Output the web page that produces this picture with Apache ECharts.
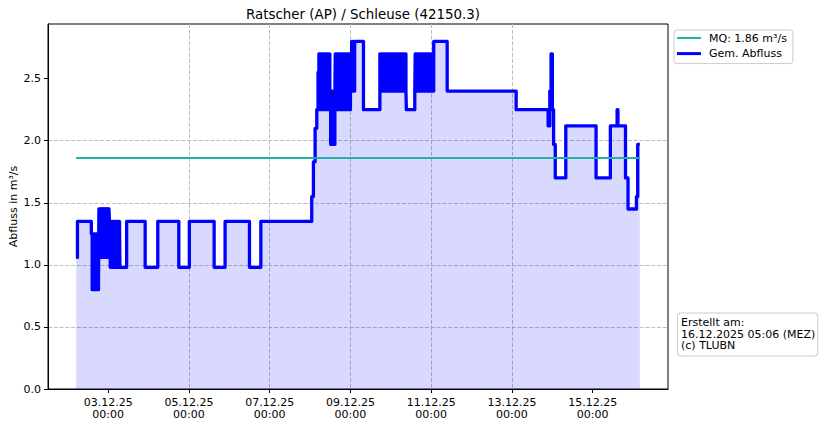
<!DOCTYPE html>
<html>
<head>
<meta charset="utf-8">
<script src="https://cdn.jsdelivr.net/npm/echarts@6/dist/echarts.min.js"></script>
<style>
html,body{margin:0;padding:0;background:#fff;}
#chart{width:823px;height:426px;}
</style>
</head>
<body>
<div id="chart"></div>
<script>
// ---------- data ----------
const chartTitle = 'Ratscher (AP) / Schleuse (42150.3)';
const yAxisTitle = 'Abfluss in m³/s';
const mqValue = 1.86;
const mqLabel = 'MQ: 1.86 m³/s';
const flowLabel = 'Gem. Abfluss';
const infoLines = ['Erstellt am:', '16.12.2025 05:06 (MEZ)', '(c) TLUBN'];
const xTickTimes = ['2025-12-03 00:00','2025-12-05 00:00','2025-12-07 00:00','2025-12-09 00:00','2025-12-11 00:00','2025-12-13 00:00','2025-12-15 00:00'];
const yTickValues = [0, 0.5, 1.0, 1.5, 2.0, 2.5];
const xRange = ['2025-12-01 12:15', '2025-12-16 20:45'];
const yRange = [0, 2.94];

// measured discharge [time, value] (value holds until next point)
const flowPoints = [
['2025-12-02 05:00',1.06],['2025-12-02 05:45',1.35],
['2025-12-02 14:00',1.25],['2025-12-02 14:30',0.80],['2025-12-02 15:00',1.25],['2025-12-02 15:30',0.80],['2025-12-02 16:00',1.25],['2025-12-02 16:30',0.80],['2025-12-02 17:00',1.25],['2025-12-02 17:30',0.80],['2025-12-02 18:00',1.25],['2025-12-02 18:15',0.80],
['2025-12-02 18:30',1.45],['2025-12-02 19:00',1.06],['2025-12-02 19:30',1.45],['2025-12-02 20:00',1.06],['2025-12-02 20:30',1.45],['2025-12-02 21:00',1.06],['2025-12-02 21:30',1.45],['2025-12-02 22:00',1.06],['2025-12-02 22:30',1.45],['2025-12-02 23:00',1.06],['2025-12-02 23:30',1.45],['2025-12-03 00:00',1.06],['2025-12-03 00:30',1.45],
['2025-12-03 00:45',1.35],['2025-12-03 01:15',0.98],['2025-12-03 01:45',1.35],['2025-12-03 02:15',0.98],['2025-12-03 02:45',1.35],['2025-12-03 03:15',0.98],['2025-12-03 03:45',1.35],['2025-12-03 04:15',0.98],['2025-12-03 04:45',1.35],['2025-12-03 05:15',0.98],['2025-12-03 05:45',1.35],['2025-12-03 06:15',0.98],['2025-12-03 06:45',1.35],['2025-12-03 07:00',0.98],
['2025-12-03 11:00',1.35],['2025-12-03 22:00',0.98],['2025-12-04 05:30',1.35],['2025-12-04 18:00',0.98],['2025-12-05 00:15',1.35],['2025-12-05 15:00',0.98],['2025-12-05 21:30',1.35],['2025-12-06 12:00',0.98],['2025-12-06 18:45',1.35],
['2025-12-08 01:00',1.55],['2025-12-08 02:00',1.83],['2025-12-08 03:00',2.10],['2025-12-08 04:00',2.25],['2025-12-08 04:45',2.55],
['2025-12-08 05:15',2.70],['2025-12-08 05:45',2.25],['2025-12-08 06:15',2.70],['2025-12-08 06:45',2.25],['2025-12-08 07:15',2.70],['2025-12-08 07:45',2.25],['2025-12-08 08:15',2.70],['2025-12-08 08:45',2.25],['2025-12-08 09:15',2.70],['2025-12-08 09:45',2.25],['2025-12-08 10:15',2.70],['2025-12-08 10:45',2.25],['2025-12-08 11:15',2.70],
['2025-12-08 11:45',2.40],['2025-12-08 12:15',1.97],['2025-12-08 12:45',2.40],['2025-12-08 13:15',1.97],['2025-12-08 13:45',2.25],['2025-12-08 14:15',1.97],['2025-12-08 14:45',2.40],
['2025-12-08 15:00',2.70],['2025-12-08 15:30',2.25],['2025-12-08 16:00',2.70],['2025-12-08 16:30',2.25],['2025-12-08 17:00',2.70],['2025-12-08 17:30',2.25],['2025-12-08 18:00',2.70],['2025-12-08 18:30',2.25],['2025-12-08 19:00',2.70],['2025-12-08 19:30',2.25],['2025-12-08 20:00',2.70],['2025-12-08 20:30',2.25],['2025-12-08 21:00',2.70],['2025-12-08 21:30',2.25],['2025-12-08 22:00',2.70],['2025-12-08 22:30',2.25],['2025-12-08 23:00',2.70],['2025-12-08 23:30',2.25],['2025-12-09 00:00',2.70],['2025-12-09 00:30',2.40],
['2025-12-09 00:45',2.80],['2025-12-09 01:30',2.40],['2025-12-09 02:30',2.80],['2025-12-09 07:45',2.25],
['2025-12-09 17:30',2.70],['2025-12-09 18:00',2.40],['2025-12-09 18:30',2.70],['2025-12-09 19:00',2.40],['2025-12-09 19:30',2.70],['2025-12-09 20:00',2.40],['2025-12-09 20:30',2.70],['2025-12-09 21:00',2.40],['2025-12-09 21:30',2.70],['2025-12-09 22:00',2.40],['2025-12-09 22:30',2.70],['2025-12-09 23:00',2.40],['2025-12-09 23:30',2.70],['2025-12-10 00:00',2.40],['2025-12-10 00:30',2.70],['2025-12-10 01:00',2.40],['2025-12-10 01:30',2.70],['2025-12-10 02:00',2.40],['2025-12-10 02:30',2.70],['2025-12-10 03:00',2.40],['2025-12-10 03:30',2.70],['2025-12-10 04:00',2.40],['2025-12-10 04:30',2.70],['2025-12-10 05:00',2.40],['2025-12-10 05:30',2.70],['2025-12-10 06:00',2.40],['2025-12-10 06:30',2.70],['2025-12-10 07:00',2.40],['2025-12-10 07:30',2.70],['2025-12-10 08:00',2.40],['2025-12-10 08:30',2.70],['2025-12-10 09:00',2.40],
['2025-12-10 09:15',2.25],
['2025-12-10 14:15',2.40],['2025-12-10 14:30',2.70],['2025-12-10 15:00',2.40],['2025-12-10 15:30',2.70],['2025-12-10 16:00',2.40],['2025-12-10 16:30',2.70],['2025-12-10 17:00',2.40],['2025-12-10 17:30',2.70],['2025-12-10 18:00',2.40],['2025-12-10 18:30',2.70],['2025-12-10 19:00',2.40],['2025-12-10 19:30',2.70],['2025-12-10 20:00',2.40],['2025-12-10 20:30',2.70],['2025-12-10 21:00',2.40],['2025-12-10 21:30',2.70],['2025-12-10 22:30',2.40],['2025-12-10 23:00',2.70],['2025-12-10 23:30',2.40],['2025-12-11 00:00',2.70],['2025-12-11 00:30',2.70],['2025-12-11 01:00',2.40],
['2025-12-11 01:30',2.80],['2025-12-11 09:30',2.40],['2025-12-13 02:30',2.25],
['2025-12-13 21:30',2.12],['2025-12-13 22:30',2.40],['2025-12-13 23:15',2.70],['2025-12-14 00:00',2.25],['2025-12-14 00:45',1.97],['2025-12-14 01:45',1.70],
['2025-12-14 08:00',2.12],['2025-12-15 02:00',1.70],['2025-12-15 10:30',2.12],['2025-12-15 14:30',2.25],['2025-12-15 15:00',2.12],['2025-12-15 19:30',1.70],['2025-12-15 21:00',1.45],
['2025-12-16 02:00',1.55],['2025-12-16 02:45',1.97],['2025-12-16 04:00',1.97]
];

// ---------- helpers ----------
const ORIGIN = Date.UTC(2025, 11, 1, 0, 0);
function toHours(s) {
  const [d, t] = s.split(' ');
  const [Y, M, D] = d.split('-').map(Number);
  const [h, m] = t.split(':').map(Number);
  return (Date.UTC(Y, M - 1, D, h, m) - ORIGIN) / 3600000;
}
function pad2(n) { return (n < 10 ? '0' : '') + n; }
function fmtTick(h) {
  const dt = new Date(ORIGIN + h * 3600000);
  return pad2(dt.getUTCDate()) + '.' + pad2(dt.getUTCMonth() + 1) + '.' + String(dt.getUTCFullYear()).slice(2) +
    '\n' + pad2(dt.getUTCHours()) + ':' + pad2(dt.getUTCMinutes());
}

const flowData = flowPoints.map(p => [toHours(p[0]), p[1]]);
const tStart = flowData[0][0];
const tEnd = flowData[flowData.length - 1][0];
const mqData = [[tStart, mqValue], [tEnd, mqValue]];
const xTicks = xTickTimes.map(toHours);

const FONT = 'DejaVu Sans';
const gridLine = { show: true, showMinLine: false, showMaxLine: false, lineStyle: { color: '#bdbdbd', width: 1, type: [4, 1.8] } };

const chart = echarts.init(document.getElementById('chart'), null, { renderer: 'svg' });
chart.setOption({
  animation: false,
  backgroundColor: '#fff',
  textStyle: { fontFamily: FONT },
  grid: { left: 48, right: 155, top: 24, bottom: 37, show: true, borderColor: '#000', borderWidth: 1, backgroundColor: 'transparent', containLabel: false, outerBoundsMode: 'none' },
  xAxis: {
    type: 'value',
    min: toHours(xRange[0]), max: toHours(xRange[1]),
    interval: 48,
    axisLine: { show: true, onZero: false, lineStyle: { color: '#000', width: 1 } },
    axisTick: { show: true, length: 4, lineStyle: { color: '#000' }, customValues: xTicks },
    axisLabel: { customValues: xTicks, formatter: v => fmtTick(v), color: '#000', fontSize: 11, fontFamily: FONT, margin: 8, lineHeight: 11.5, align: 'center' },
    splitLine: gridLine
  },
  yAxis: {
    type: 'value',
    min: yRange[0], max: yRange[1], interval: 0.5,
    axisLine: { show: true, lineStyle: { color: '#000', width: 1 } },
    axisTick: { show: true, length: 4, lineStyle: { color: '#000' }, customValues: yTickValues },
    axisLabel: { customValues: yTickValues, formatter: v => v.toFixed(1), color: '#000', fontSize: 11, fontFamily: FONT, margin: 7 },
    splitLine: gridLine
  },
  legend: {
    orient: 'vertical', left: 674, top: 30,
    padding: [2, 6, 4, 3], itemGap: 3.6, itemWidth: 24, itemHeight: 12,
    backgroundColor: '#fff', borderColor: '#cccccc', borderWidth: 1, borderRadius: 3,
    itemStyle: { borderWidth: 0 },
    textStyle: { color: '#000', fontSize: 11, fontFamily: FONT, lineHeight: 12, padding: [0, 0, 0, 3] },
    data: [
      { name: mqLabel, icon: 'path://M0,0H24V2H0Z' },
      { name: flowLabel, icon: 'path://M0,0H24V3H0Z' }
    ]
  },
  title: {
    text: chartTitle, left: 358, top: 3, textAlign: 'center',
    textStyle: { color: '#000', fontSize: 13.4, fontWeight: 'normal', fontFamily: FONT }
  },
  graphic: [
    {
      type: 'text', x: 13, y: 206.5, rotation: Math.PI / 2, z: 100,
      style: { text: yAxisTitle, fill: '#000', font: '11px "DejaVu Sans"', textAlign: 'center', textVerticalAlign: 'middle' }
    },
    {
      type: 'text', left: 677, top: 312.5, z: 100,
      style: {
        text: infoLines.join('\n'), fill: '#000', font: '11px "DejaVu Sans"', lineHeight: 11.7,
        backgroundColor: '#fff', borderColor: '#cccccc', borderWidth: 1, borderRadius: 3, padding: [3, 2, 4, 3]
      }
    }
  ],
  series: [
    {
      name: mqLabel, type: 'line', data: mqData, symbol: 'none', z: 4,
      lineStyle: { color: '#20b2aa', width: 2 }, itemStyle: { color: '#20b2aa' }
    },
    {
      name: flowLabel, type: 'line', data: flowData, step: 'end', symbol: 'none', z: 3,
      lineStyle: { color: '#0000ff', width: 3.3, join: 'round' }, itemStyle: { color: '#0000ff' },
      areaStyle: { color: '#0000ff', opacity: 0.15, origin: 'start' }
    }
  ]
});
</script>
</body>
</html>
